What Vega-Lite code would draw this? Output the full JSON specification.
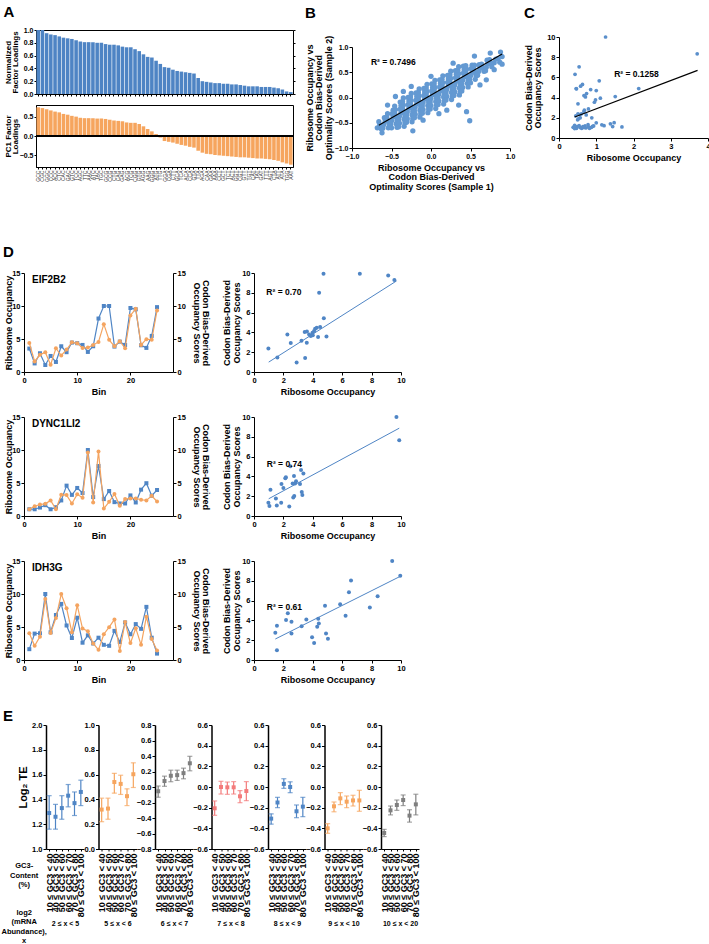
{
"$schema": "https://vega.github.io/schema/vega-lite/v6.json",
"padding": {"left": 0, "top": 4, "right": 0, "bottom": 0},
"background": "white",
"config": {
  "font": "Liberation Sans",
  "view": {"stroke": null},
  "axis": {"grid": false, "domainColor": "#000", "tickColor": "#000", "labelColor": "#000", "titleColor": "#000", "labelFont": "Liberation Sans", "titleFont": "Liberation Sans", "labelFontWeight": "bold", "titleFontWeight": "bold", "labelFontSize": 7.5, "titleFontSize": 9, "tickSize": 3, "labelPadding": 1, "titlePadding": 4, "titleLineHeight": 9.5, "labelOverlap": false, "labelFlush": false, "labelBound": false},
  "title": {"font": "Liberation Sans", "fontSize": 15, "fontWeight": "bold", "anchor": "start", "frame": "bounds", "color": "#000", "offset": 4},
  "text": {"font": "Liberation Sans", "fontWeight": "bold", "color": "#000"}
},
"datasets": {
  "nfl": [{"i":0,"v":1.0},{"i":1,"v":1.0},{"i":2,"v":0.95},{"i":3,"v":0.93},{"i":4,"v":0.92},{"i":5,"v":0.90},{"i":6,"v":0.88},{"i":7,"v":0.87},{"i":8,"v":0.86},{"i":9,"v":0.84},{"i":10,"v":0.82},{"i":11,"v":0.81},{"i":12,"v":0.81},{"i":13,"v":0.81},{"i":14,"v":0.80},{"i":15,"v":0.80},{"i":16,"v":0.78},{"i":17,"v":0.77},{"i":18,"v":0.77},{"i":19,"v":0.76},{"i":20,"v":0.74},{"i":21,"v":0.73},{"i":22,"v":0.73},{"i":23,"v":0.70},{"i":24,"v":0.67},{"i":25,"v":0.62},{"i":26,"v":0.58},{"i":27,"v":0.57},{"i":28,"v":0.52},{"i":29,"v":0.47},{"i":30,"v":0.42},{"i":31,"v":0.41},{"i":32,"v":0.38},{"i":33,"v":0.36},{"i":34,"v":0.35},{"i":35,"v":0.34},{"i":36,"v":0.33},{"i":37,"v":0.32},{"i":38,"v":0.25},{"i":39,"v":0.20},{"i":40,"v":0.19},{"i":41,"v":0.18},{"i":42,"v":0.17},{"i":43,"v":0.17},{"i":44,"v":0.16},{"i":45,"v":0.16},{"i":46,"v":0.15},{"i":47,"v":0.15},{"i":48,"v":0.14},{"i":49,"v":0.13},{"i":50,"v":0.12},{"i":51,"v":0.12},{"i":52,"v":0.12},{"i":53,"v":0.11},{"i":54,"v":0.11},{"i":55,"v":0.11},{"i":56,"v":0.10},{"i":57,"v":0.09},{"i":58,"v":0.07},{"i":59,"v":0.04},{"i":60,"v":0.03}],
  "pc1": [{"c":"GCC","v":0.74},{"c":"CGC","v":0.72},{"c":"GGC","v":0.69},{"c":"CCC","v":0.66},{"c":"ACC","v":0.63},{"c":"CTC","v":0.61},{"c":"CAC","v":0.57},{"c":"GAC","v":0.55},{"c":"GTC","v":0.52},{"c":"TCC","v":0.50},{"c":"AGC","v":0.47},{"c":"TTC","v":0.46},{"c":"AAC","v":0.46},{"c":"ATC","v":0.46},{"c":"TAC","v":0.45},{"c":"TGC","v":0.45},{"c":"GCG","v":0.44},{"c":"CCG","v":0.42},{"c":"CTG","v":0.40},{"c":"CAG","v":0.39},{"c":"GAG","v":0.38},{"c":"ACG","v":0.35},{"c":"TCG","v":0.34},{"c":"CGG","v":0.34},{"c":"GTG","v":0.31},{"c":"AGG","v":0.25},{"c":"AAG","v":0.18},{"c":"GGG","v":0.12},{"c":"ATG","v":0.05},{"c":"TTG","v":-0.04},{"c":"GGA","v":-0.13},{"c":"CGA","v":-0.15},{"c":"CTT","v":-0.17},{"c":"GCA","v":-0.20},{"c":"TCA","v":-0.23},{"c":"ACA","v":-0.25},{"c":"CCA","v":-0.28},{"c":"GTA","v":-0.30},{"c":"TTA","v":-0.38},{"c":"AGA","v":-0.43},{"c":"CAA","v":-0.46},{"c":"GAA","v":-0.47},{"c":"AAA","v":-0.49},{"c":"CCT","v":-0.50},{"c":"GCT","v":-0.51},{"c":"TCT","v":-0.52},{"c":"ACT","v":-0.53},{"c":"GGT","v":-0.54},{"c":"CGT","v":-0.55},{"c":"GTT","v":-0.55},{"c":"TGT","v":-0.56},{"c":"CAT","v":-0.57},{"c":"TAT","v":-0.58},{"c":"GAT","v":-0.58},{"c":"TTT","v":-0.59},{"c":"AGT","v":-0.60},{"c":"CTA","v":-0.62},{"c":"ATT","v":-0.64},{"c":"ATA","v":-0.68},{"c":"TGG","v":-0.71},{"c":"AAT","v":-0.74}],
  "bcloud": [
{"x":-0.65,"y":-0.55},{"x":-0.63,"y":-0.62},{"x":-0.66,"y":-0.48},
{"x":-0.60,"y":-0.54},{"x":-0.58,"y":-0.47},{"x":-0.61,"y":-0.61},{"x":-0.59,"y":-0.40},
{"x":-0.55,"y":-0.46},{"x":-0.53,"y":-0.53},{"x":-0.56,"y":-0.39},{"x":-0.54,"y":-0.60},{"x":-0.55,"y":-0.32},
{"x":-0.50,"y":-0.46},{"x":-0.48,"y":-0.38},{"x":-0.51,"y":-0.53},{"x":-0.49,"y":-0.32},{"x":-0.50,"y":-0.60},{"x":-0.48,"y":-0.25},
{"x":-0.45,"y":-0.38},{"x":-0.43,"y":-0.45},{"x":-0.46,"y":-0.31},{"x":-0.44,"y":-0.52},{"x":-0.45,"y":-0.24},{"x":-0.43,"y":-0.59},{"x":-0.46,"y":-0.17},
{"x":-0.40,"y":-0.37},{"x":-0.38,"y":-0.30},{"x":-0.41,"y":-0.44},{"x":-0.39,"y":-0.23},{"x":-0.40,"y":-0.51},{"x":-0.38,"y":-0.16},{"x":-0.41,"y":-0.58},{"x":-0.39,"y":-0.09},
{"x":-0.35,"y":-0.29},{"x":-0.33,"y":-0.36},{"x":-0.36,"y":-0.22},{"x":-0.34,"y":-0.43},{"x":-0.35,"y":-0.15},{"x":-0.33,"y":-0.50},{"x":-0.36,"y":-0.08},{"x":-0.34,"y":-0.57},{"x":-0.35,"y":-0.01},
{"x":-0.30,"y":-0.28},{"x":-0.28,"y":-0.21},{"x":-0.31,"y":-0.35},{"x":-0.29,"y":-0.14},{"x":-0.30,"y":-0.42},{"x":-0.28,"y":-0.07},{"x":-0.31,"y":-0.49},{"x":-0.29,"y":0.00},
{"x":-0.25,"y":-0.20},{"x":-0.23,"y":-0.27},{"x":-0.26,"y":-0.13},{"x":-0.24,"y":-0.34},{"x":-0.25,"y":-0.06},{"x":-0.23,"y":-0.41},{"x":-0.26,"y":0.01},{"x":-0.24,"y":-0.48},{"x":-0.25,"y":0.08},
{"x":-0.20,"y":-0.19},{"x":-0.18,"y":-0.12},{"x":-0.21,"y":-0.26},{"x":-0.19,"y":-0.05},{"x":-0.20,"y":-0.33},{"x":-0.18,"y":0.02},{"x":-0.21,"y":-0.40},{"x":-0.19,"y":0.09},
{"x":-0.15,"y":-0.11},{"x":-0.13,"y":-0.18},{"x":-0.16,"y":-0.04},{"x":-0.14,"y":-0.25},{"x":-0.15,"y":0.03},{"x":-0.13,"y":-0.32},{"x":-0.16,"y":0.10},{"x":-0.14,"y":-0.39},{"x":-0.15,"y":0.17},
{"x":-0.10,"y":-0.10},{"x":-0.08,"y":-0.03},{"x":-0.11,"y":-0.17},{"x":-0.09,"y":0.04},{"x":-0.10,"y":-0.24},{"x":-0.08,"y":0.11},{"x":-0.11,"y":-0.31},{"x":-0.09,"y":0.18},
{"x":-0.05,"y":-0.02},{"x":-0.03,"y":-0.09},{"x":-0.06,"y":0.05},{"x":-0.04,"y":-0.16},{"x":-0.05,"y":0.12},{"x":-0.03,"y":-0.23},{"x":-0.06,"y":0.19},{"x":-0.04,"y":-0.30},{"x":-0.05,"y":0.26},
{"x":0.00,"y":-0.02},{"x":0.02,"y":0.06},{"x":-0.01,"y":-0.09},{"x":0.01,"y":0.13},{"x":0.00,"y":-0.16},{"x":0.02,"y":0.20},{"x":-0.01,"y":-0.23},{"x":0.01,"y":0.27},
{"x":0.05,"y":0.06},{"x":0.07,"y":-0.01},{"x":0.04,"y":0.13},{"x":0.06,"y":-0.08},{"x":0.05,"y":0.20},{"x":0.07,"y":-0.15},{"x":0.04,"y":0.27},{"x":0.06,"y":-0.22},{"x":0.05,"y":0.34},
{"x":0.10,"y":0.07},{"x":0.12,"y":0.14},{"x":0.09,"y":0.00},{"x":0.11,"y":0.21},{"x":0.10,"y":-0.07},{"x":0.12,"y":0.28},{"x":0.09,"y":-0.14},{"x":0.11,"y":0.35},
{"x":0.15,"y":0.15},{"x":0.17,"y":0.08},{"x":0.14,"y":0.22},{"x":0.16,"y":0.01},{"x":0.15,"y":0.29},{"x":0.17,"y":-0.06},{"x":0.14,"y":0.36},{"x":0.16,"y":-0.13},{"x":0.15,"y":0.43},
{"x":0.20,"y":0.16},{"x":0.22,"y":0.23},{"x":0.19,"y":0.09},{"x":0.21,"y":0.30},{"x":0.20,"y":0.02},{"x":0.22,"y":0.37},{"x":0.19,"y":-0.05},{"x":0.21,"y":0.44},
{"x":0.25,"y":0.24},{"x":0.27,"y":0.17},{"x":0.24,"y":0.31},{"x":0.26,"y":0.10},{"x":0.25,"y":0.38},{"x":0.27,"y":0.03},{"x":0.24,"y":0.45},{"x":0.26,"y":-0.04},{"x":0.25,"y":0.52},
{"x":0.30,"y":0.25},{"x":0.32,"y":0.32},{"x":0.29,"y":0.18},{"x":0.31,"y":0.39},{"x":0.30,"y":0.11},{"x":0.32,"y":0.46},{"x":0.29,"y":0.04},{"x":0.31,"y":0.53},
{"x":0.35,"y":0.33},{"x":0.37,"y":0.26},{"x":0.34,"y":0.40},{"x":0.36,"y":0.19},{"x":0.35,"y":0.47},{"x":0.37,"y":0.12},{"x":0.34,"y":0.54},{"x":0.36,"y":0.05},{"x":0.35,"y":0.61},
{"x":0.40,"y":0.34},{"x":0.42,"y":0.41},{"x":0.39,"y":0.27},{"x":0.41,"y":0.48},{"x":0.40,"y":0.20},{"x":0.42,"y":0.55},{"x":0.39,"y":0.13},{"x":0.41,"y":0.62},
{"x":0.45,"y":0.42},{"x":0.47,"y":0.35},{"x":0.44,"y":0.49},{"x":0.46,"y":0.28},{"x":0.45,"y":0.56},{"x":0.47,"y":0.21},{"x":0.44,"y":0.63},
{"x":0.50,"y":0.43},{"x":0.52,"y":0.50},{"x":0.49,"y":0.36},{"x":0.51,"y":0.57},{"x":0.50,"y":0.29},{"x":0.52,"y":0.64},
{"x":0.55,"y":0.50},{"x":0.57,"y":0.43},{"x":0.54,"y":0.57},{"x":0.56,"y":0.36},{"x":0.55,"y":0.64},
{"x":0.60,"y":0.51},{"x":0.62,"y":0.58},{"x":0.59,"y":0.44},{"x":0.61,"y":0.65},
{"x":0.65,"y":0.59},{"x":0.67,"y":0.52},{"x":0.64,"y":0.66},
{"x":0.70,"y":0.60},{"x":0.72,"y":0.67},{"x":0.69,"y":0.53},{"x":0.71,"y":0.74},
{"x":0.75,"y":0.68},{"x":0.77,"y":0.61},{"x":0.74,"y":0.75},
{"x":0.80,"y":0.69},{"x":0.82,"y":0.76},{"x":0.85,"y":0.77},{"x":0.87,"y":0.70},{"x":0.90,"y":0.81},
{"x":-0.23,"y":-0.66},{"x":0.49,"y":-0.46},{"x":0.45,"y":-0.28},{"x":-0.62,"y":-0.70},{"x":-0.10,"y":-0.45},{"x":0.20,"y":-0.25},{"x":0.62,"y":0.25},{"x":-0.45,"y":0.02},{"x":-0.25,"y":0.22},{"x":0.00,"y":0.42},{"x":0.28,"y":0.68},{"x":0.90,"y":0.66},{"x":0.88,"y":0.90},{"x":0.55,"y":0.82},{"x":-0.55,"y":-0.15},{"x":0.10,"y":-0.32},{"x":0.70,"y":0.35},{"x":0.75,"y":0.88},{"x":-0.35,"y":0.12},{"x":0.35,"y":-0.15},{"x":-0.68,"y":-0.60},{"x":0.80,"y":0.55}
  ],
  "bfit": [{"x":-0.66,"y":-0.55},{"x":0.90,"y":0.86}],
  "cpts": [{"x":1.25,"y":10.0},{"x":3.71,"y":8.34},{"x":0.54,"y":7.05},{"x":0.43,"y":6.3},{"x":1.08,"y":5.66},{"x":0.63,"y":5.3},{"x":0.58,"y":5.13},{"x":0.47,"y":4.87},{"x":0.85,"y":4.8},{"x":2.14,"y":4.9},{"x":1.0,"y":4.7},{"x":0.74,"y":4.4},{"x":0.67,"y":4.2},{"x":0.71,"y":4.07},{"x":1.11,"y":3.94},{"x":0.98,"y":3.77},{"x":0.95,"y":3.54},{"x":1.51,"y":4.1},{"x":0.51,"y":3.38},{"x":0.79,"y":2.88},{"x":0.68,"y":2.75},{"x":0.67,"y":2.6},{"x":0.51,"y":2.4},{"x":0.56,"y":2.3},{"x":0.45,"y":2.2},{"x":0.57,"y":2.0},{"x":0.88,"y":2.0},{"x":0.5,"y":1.8},{"x":0.73,"y":2.28},{"x":1.0,"y":1.5},{"x":1.21,"y":1.22},{"x":1.38,"y":1.4},{"x":1.48,"y":1.52},{"x":1.44,"y":1.13},{"x":1.69,"y":1.1},{"x":0.78,"y":1.32},{"x":0.38,"y":1.06},{"x":0.42,"y":1.26},{"x":0.49,"y":1.13},{"x":0.57,"y":1.03},{"x":0.64,"y":1.13},{"x":0.72,"y":0.99},{"x":0.79,"y":1.1},{"x":0.87,"y":1.06},{"x":0.93,"y":1.2},{"x":0.47,"y":0.96},{"x":0.54,"y":1.23},{"x":0.61,"y":0.96},{"x":0.70,"y":1.2},{"x":0.82,"y":0.96},{"x":0.42,"y":0.93},{"x":0.46,"y":4.9},{"x":0.52,"y":1.9},{"x":0.6,"y":2.4},{"x":0.9,"y":1.15},{"x":1.15,"y":1.3},{"x":0.66,"y":1.05}],
  "cfit": [{"x":0.42,"y":2.08},{"x":3.72,"y":6.7}],
  "lines": [
{"g":"EIF2B2","bin":1,"r":3.55,"c":4.4},{"g":"EIF2B2","bin":2,"r":1.3,"c":1.6},{"g":"EIF2B2","bin":3,"r":2.84,"c":2.6},{"g":"EIF2B2","bin":4,"r":1.06,"c":3.0},{"g":"EIF2B2","bin":5,"r":2.43,"c":1.1},{"g":"EIF2B2","bin":6,"r":1.52,"c":3.6},{"g":"EIF2B2","bin":7,"r":3.9,"c":2.5},{"g":"EIF2B2","bin":8,"r":3.0,"c":3.4},{"g":"EIF2B2","bin":9,"r":4.46,"c":4.5},{"g":"EIF2B2","bin":10,"r":4.36,"c":4.36},{"g":"EIF2B2","bin":11,"r":4.1,"c":3.65},{"g":"EIF2B2","bin":12,"r":3.04,"c":3.7},{"g":"EIF2B2","bin":13,"r":3.9,"c":4.1},{"g":"EIF2B2","bin":14,"r":8.1,"c":4.56},{"g":"EIF2B2","bin":15,"r":10.0,"c":7.25},{"g":"EIF2B2","bin":16,"r":10.0,"c":4.87},{"g":"EIF2B2","bin":17,"r":3.85,"c":3.9},{"g":"EIF2B2","bin":18,"r":4.6,"c":4.66},{"g":"EIF2B2","bin":19,"r":4.1,"c":3.6},{"g":"EIF2B2","bin":20,"r":9.7,"c":8.57},{"g":"EIF2B2","bin":21,"r":9.5,"c":9.58},{"g":"EIF2B2","bin":22,"r":4.05,"c":4.1},{"g":"EIF2B2","bin":23,"r":3.65,"c":4.97},{"g":"EIF2B2","bin":24,"r":5.47,"c":4.87},{"g":"EIF2B2","bin":25,"r":9.83,"c":9.33},
{"g":"DYNC1LI2","bin":1,"r":1.02,"c":1.02},{"g":"DYNC1LI2","bin":2,"r":1.02,"c":1.48},{"g":"DYNC1LI2","bin":3,"r":1.28,"c":1.74},{"g":"DYNC1LI2","bin":4,"r":1.64,"c":1.84},{"g":"DYNC1LI2","bin":5,"r":1.02,"c":2.36},{"g":"DYNC1LI2","bin":6,"r":1.33,"c":1.02},{"g":"DYNC1LI2","bin":7,"r":2.36,"c":3.23},{"g":"DYNC1LI2","bin":8,"r":4.6,"c":3.17},{"g":"DYNC1LI2","bin":9,"r":3.2,"c":1.9},{"g":"DYNC1LI2","bin":10,"r":4.25,"c":3.28},{"g":"DYNC1LI2","bin":11,"r":3.48,"c":2.77},{"g":"DYNC1LI2","bin":12,"r":10.0,"c":9.63},{"g":"DYNC1LI2","bin":13,"r":2.87,"c":2.05},{"g":"DYNC1LI2","bin":14,"r":7.58,"c":9.78},{"g":"DYNC1LI2","bin":15,"r":2.56,"c":1.13},{"g":"DYNC1LI2","bin":16,"r":3.79,"c":2.15},{"g":"DYNC1LI2","bin":17,"r":2.1,"c":3.33},{"g":"DYNC1LI2","bin":18,"r":1.9,"c":1.54},{"g":"DYNC1LI2","bin":19,"r":1.9,"c":2.56},{"g":"DYNC1LI2","bin":20,"r":3.12,"c":2.66},{"g":"DYNC1LI2","bin":21,"r":2.05,"c":2.66},{"g":"DYNC1LI2","bin":22,"r":3.99,"c":2.46},{"g":"DYNC1LI2","bin":23,"r":4.97,"c":2.36},{"g":"DYNC1LI2","bin":24,"r":3.07,"c":3.07},{"g":"DYNC1LI2","bin":25,"r":3.94,"c":2.2},
{"g":"IDH3G","bin":1,"r":1.64,"c":4.05},{"g":"IDH3G","bin":2,"r":4.0,"c":2.15},{"g":"IDH3G","bin":3,"r":4.05,"c":3.54},{"g":"IDH3G","bin":4,"r":10.0,"c":9.23},{"g":"IDH3G","bin":5,"r":4.2,"c":4.1},{"g":"IDH3G","bin":6,"r":6.82,"c":6.36},{"g":"IDH3G","bin":7,"r":8.5,"c":10.0},{"g":"IDH3G","bin":8,"r":5.23,"c":7.85},{"g":"IDH3G","bin":9,"r":3.33,"c":4.2},{"g":"IDH3G","bin":10,"r":6.41,"c":8.3},{"g":"IDH3G","bin":11,"r":2.62,"c":4.77},{"g":"IDH3G","bin":12,"r":3.74,"c":4.36},{"g":"IDH3G","bin":13,"r":2.5,"c":2.51},{"g":"IDH3G","bin":14,"r":3.38,"c":1.54},{"g":"IDH3G","bin":15,"r":2.3,"c":3.9},{"g":"IDH3G","bin":16,"r":2.15,"c":4.97},{"g":"IDH3G","bin":17,"r":4.41,"c":6.15},{"g":"IDH3G","bin":18,"r":2.72,"c":1.38},{"g":"IDH3G","bin":19,"r":5.69,"c":5.74},{"g":"IDH3G","bin":20,"r":3.9,"c":2.56},{"g":"IDH3G","bin":21,"r":5.44,"c":4.82},{"g":"IDH3G","bin":22,"r":4.72,"c":2.3},{"g":"IDH3G","bin":23,"r":8.05,"c":6.56},{"g":"IDH3G","bin":24,"r":3.38,"c":3.18},{"g":"IDH3G","bin":25,"r":0.97,"c":1.44}
  ],
  "scat": [
{"g":"EIF2B2","x":0.98,"y":2.37},{"g":"EIF2B2","x":1.59,"y":1.46},{"g":"EIF2B2","x":2.27,"y":3.8},{"g":"EIF2B2","x":2.5,"y":2.92},{"g":"EIF2B2","x":2.9,"y":0.95},{"g":"EIF2B2","x":3.23,"y":3.15},{"g":"EIF2B2","x":3.45,"y":4.03},{"g":"EIF2B2","x":3.48,"y":1.42},{"g":"EIF2B2","x":3.59,"y":2.95},{"g":"EIF2B2","x":3.75,"y":3.8},{"g":"EIF2B2","x":3.86,"y":3.63},{"g":"EIF2B2","x":3.98,"y":3.97},{"g":"EIF2B2","x":4.09,"y":4.14},{"g":"EIF2B2","x":4.16,"y":4.37},{"g":"EIF2B2","x":4.27,"y":4.47},{"g":"EIF2B2","x":4.36,"y":3.53},{"g":"EIF2B2","x":4.43,"y":8.0},{"g":"EIF2B2","x":4.5,"y":4.54},{"g":"EIF2B2","x":4.73,"y":9.93},{"g":"EIF2B2","x":4.75,"y":5.42},{"g":"EIF2B2","x":4.93,"y":3.59},{"g":"EIF2B2","x":7.2,"y":9.93},{"g":"EIF2B2","x":9.13,"y":9.74},{"g":"EIF2B2","x":9.55,"y":9.3},{"g":"EIF2B2","x":3.6,"y":4.1},{"g":"EIF2B2","x":4.0,"y":3.7},
{"g":"DYNC1LI2","x":0.98,"y":1.33},{"g":"DYNC1LI2","x":1.05,"y":1.02},{"g":"DYNC1LI2","x":1.12,"y":2.66},{"g":"DYNC1LI2","x":1.49,"y":1.77},{"g":"DYNC1LI2","x":1.55,"y":1.06},{"g":"DYNC1LI2","x":1.85,"y":1.33},{"g":"DYNC1LI2","x":1.87,"y":3.24},{"g":"DYNC1LI2","x":2.0,"y":2.83},{"g":"DYNC1LI2","x":2.13,"y":3.82},{"g":"DYNC1LI2","x":2.17,"y":3.92},{"g":"DYNC1LI2","x":2.4,"y":0.96},{"g":"DYNC1LI2","x":2.47,"y":5.02},{"g":"DYNC1LI2","x":2.63,"y":3.28},{"g":"DYNC1LI2","x":2.67,"y":1.88},{"g":"DYNC1LI2","x":2.74,"y":2.01},{"g":"DYNC1LI2","x":2.72,"y":4.03},{"g":"DYNC1LI2","x":2.86,"y":3.52},{"g":"DYNC1LI2","x":2.79,"y":3.28},{"g":"DYNC1LI2","x":3.13,"y":3.24},{"g":"DYNC1LI2","x":3.2,"y":4.64},{"g":"DYNC1LI2","x":3.25,"y":2.42},{"g":"DYNC1LI2","x":3.29,"y":2.12},{"g":"DYNC1LI2","x":3.36,"y":4.3},{"g":"DYNC1LI2","x":9.69,"y":10.0},{"g":"DYNC1LI2","x":9.88,"y":7.65},
{"g":"IDH3G","x":1.45,"y":2.74},{"g":"IDH3G","x":1.56,"y":3.45},{"g":"IDH3G","x":1.56,"y":0.99},{"g":"IDH3G","x":2.18,"y":4.03},{"g":"IDH3G","x":2.3,"y":4.72},{"g":"IDH3G","x":2.55,"y":3.86},{"g":"IDH3G","x":2.55,"y":2.67},{"g":"IDH3G","x":3.24,"y":3.42},{"g":"IDH3G","x":3.56,"y":4.1},{"g":"IDH3G","x":3.95,"y":2.29},{"g":"IDH3G","x":4.09,"y":1.71},{"g":"IDH3G","x":4.3,"y":3.35},{"g":"IDH3G","x":4.37,"y":4.17},{"g":"IDH3G","x":4.41,"y":3.69},{"g":"IDH3G","x":4.83,"y":5.47},{"g":"IDH3G","x":4.9,"y":2.67},{"g":"IDH3G","x":5.03,"y":2.15},{"g":"IDH3G","x":5.86,"y":5.64},{"g":"IDH3G","x":6.23,"y":4.48},{"g":"IDH3G","x":6.46,"y":6.84},{"g":"IDH3G","x":6.6,"y":8.03},{"g":"IDH3G","x":7.88,"y":5.3},{"g":"IDH3G","x":8.41,"y":6.43},{"g":"IDH3G","x":9.95,"y":8.5},{"g":"IDH3G","x":9.4,"y":10.0}
  ],
  "fit": [{"g":"EIF2B2","x":1.0,"y":1.0},{"g":"EIF2B2","x":9.7,"y":9.2},{"g":"DYNC1LI2","x":1.0,"y":1.74},{"g":"DYNC1LI2","x":9.88,"y":8.87},{"g":"IDH3G","x":1.45,"y":2.12},{"g":"IDH3G","x":9.95,"y":8.45}],
  "te": [
{"p":1,"g":"10 ≤ GC3 < 40","m":1.29,"lo":1.16,"hi":1.43},{"p":1,"g":"40 ≤ GC3 < 50","m":1.26,"lo":1.16,"hi":1.36},{"p":1,"g":"50 ≤ GC3 < 60","m":1.33,"lo":1.24,"hi":1.43},{"p":1,"g":"60 ≤ GC3 < 70","m":1.43,"lo":1.34,"hi":1.52},{"p":1,"g":"70 ≤ GC3 < 80","m":1.37,"lo":1.27,"hi":1.46},{"p":1,"g":"80 ≤ GC3 < 100","m":1.46,"lo":1.35,"hi":1.555},
{"p":2,"g":"10 ≤ GC3 < 40","m":0.318,"lo":0.22,"hi":0.41},{"p":2,"g":"40 ≤ GC3 < 50","m":0.326,"lo":0.24,"hi":0.41},{"p":2,"g":"50 ≤ GC3 < 60","m":0.54,"lo":0.45,"hi":0.61},{"p":2,"g":"60 ≤ GC3 < 70","m":0.525,"lo":0.44,"hi":0.595},{"p":2,"g":"70 ≤ GC3 < 80","m":0.426,"lo":0.35,"hi":0.485},{"p":2,"g":"80 ≤ GC3 < 100","m":0.603,"lo":0.496,"hi":0.695},
{"p":3,"g":"10 ≤ GC3 < 40","m":-0.055,"lo":-0.132,"hi":0.013},{"p":3,"g":"40 ≤ GC3 < 50","m":0.077,"lo":0.009,"hi":0.14},{"p":3,"g":"50 ≤ GC3 < 60","m":0.145,"lo":0.068,"hi":0.217},{"p":3,"g":"60 ≤ GC3 < 70","m":0.153,"lo":0.085,"hi":0.217},{"p":3,"g":"70 ≤ GC3 < 80","m":0.179,"lo":0.106,"hi":0.243},{"p":3,"g":"80 ≤ GC3 < 100","m":0.306,"lo":0.209,"hi":0.396},
{"p":4,"g":"10 ≤ GC3 < 40","m":-0.206,"lo":-0.274,"hi":-0.135},{"p":4,"g":"40 ≤ GC3 < 50","m":0.0,"lo":-0.068,"hi":0.055},{"p":4,"g":"50 ≤ GC3 < 60","m":-0.003,"lo":-0.071,"hi":0.048},{"p":4,"g":"60 ≤ GC3 < 70","m":-0.003,"lo":-0.068,"hi":0.052},{"p":4,"g":"70 ≤ GC3 < 80","m":-0.09,"lo":-0.152,"hi":-0.035},{"p":4,"g":"80 ≤ GC3 < 100","m":-0.039,"lo":-0.132,"hi":0.052},
{"p":5,"g":"10 ≤ GC3 < 40","m":-0.306,"lo":-0.36,"hi":-0.26},{"p":5,"g":"40 ≤ GC3 < 50","m":-0.15,"lo":-0.2,"hi":-0.1},{"p":5,"g":"50 ≤ GC3 < 60","m":0.03,"lo":-0.013,"hi":0.08},{"p":5,"g":"60 ≤ GC3 < 70","m":0.0,"lo":-0.055,"hi":0.05},{"p":5,"g":"70 ≤ GC3 < 80","m":-0.235,"lo":-0.297,"hi":-0.174},{"p":5,"g":"80 ≤ GC3 < 100","m":-0.19,"lo":-0.287,"hi":-0.1},
{"p":6,"g":"10 ≤ GC3 < 40","m":-0.4,"lo":-0.448,"hi":-0.355},{"p":6,"g":"40 ≤ GC3 < 50","m":-0.187,"lo":-0.24,"hi":-0.145},{"p":6,"g":"50 ≤ GC3 < 60","m":-0.11,"lo":-0.17,"hi":-0.055},{"p":6,"g":"60 ≤ GC3 < 70","m":-0.142,"lo":-0.2,"hi":-0.087},{"p":6,"g":"70 ≤ GC3 < 80","m":-0.13,"lo":-0.184,"hi":-0.08},{"p":6,"g":"80 ≤ GC3 < 100","m":-0.13,"lo":-0.235,"hi":-0.032},
{"p":7,"g":"10 ≤ GC3 < 40","m":-0.445,"lo":-0.48,"hi":-0.41},{"p":7,"g":"40 ≤ GC3 < 50","m":-0.226,"lo":-0.27,"hi":-0.184},{"p":7,"g":"50 ≤ GC3 < 60","m":-0.174,"lo":-0.226,"hi":-0.126},{"p":7,"g":"60 ≤ GC3 < 70","m":-0.126,"lo":-0.18,"hi":-0.077},{"p":7,"g":"70 ≤ GC3 < 80","m":-0.277,"lo":-0.34,"hi":-0.22},{"p":7,"g":"80 ≤ GC3 < 100","m":-0.168,"lo":-0.27,"hi":-0.07}
  ]
},
"spacing": 54,
"vconcat": [
 {"spacing": 0, "hconcat": [
   {"width": 3, "height": 1, "data": {"values": []}, "mark": {"type": "point", "opacity": 0}},
   {"spacing": 8, "hconcat": [
     {"title": {"text": "A", "offset": 6},
      "spacing": 6,
      "vconcat": [
       {"width": 257, "height": 64, "data": {"name": "nfl"}, "view": {"stroke": "#000"},
        "layer": [
         {"mark": {"type": "bar", "color": "#4e84c4"},
          "encoding": {"x": {"field": "i", "type": "ordinal", "scale": {"paddingInner": 0.15, "paddingOuter": 0.1}, "axis": {"labels": false, "title": null, "tickSize": 2}},
                       "y": {"field": "v", "type": "quantitative", "scale": {"domain": [0, 1]}, "axis": {"values": [0, 0.2, 0.4, 0.6, 0.8, 1], "tickCount": 50, "format": ".1f", "labelFontSize": 7, "tickSize": 2, "titleX": -24, "titleFontSize": 8, "titleLineHeight": 7.5, "title": ["Normalized", "Factor Loadings"]}}}},
         {"mark": {"type": "bar", "opacity": 0},
          "encoding": {"x": {"field": "i", "type": "ordinal"},
                       "y": {"field": "v", "type": "quantitative", "axis": {"orient": "right", "labels": false, "domain": false, "title": null, "tickSize": 2, "tickCount": 50, "values": [0, 0.2, 0.4, 0.6, 0.8, 1]}}}}
        ],
        "resolve": {"axis": {"y": "independent"}}},
       {"width": 257, "height": 62, "data": {"name": "pc1"}, "view": {"stroke": "#000"},
        "layer": [
         {"mark": {"type": "bar", "color": "#f6a55e"},
          "encoding": {"x": {"field": "c", "type": "nominal", "sort": null, "scale": {"paddingInner": 0.15, "paddingOuter": 0.1}, "axis": {"title": null, "labelAngle": -90, "labelFontSize": 5, "labelFontWeight": "normal", "labelColor": "#333", "tickSize": 2, "labelPadding": 1}},
                       "y": {"field": "v", "type": "quantitative", "scale": {"domain": [-0.78, 0.78]}, "axis": {"values": [-0.5, 0, 0.5], "tickCount": 50, "format": ".1f", "labelFontSize": 7, "tickSize": 2, "titleX": -24, "titleFontSize": 8, "titleLineHeight": 7.5, "title": ["PC1 Factor", "Loadings"]}}}},
         {"mark": {"type": "rule", "color": "#000", "strokeWidth": 1}, "encoding": {"y": {"datum": 0}}}
        ]}
      ]},
     {"spacing": 8, "hconcat": [
       {"title": {"text": "B", "offset": 9}, "spacing": 4, "vconcat": [
         {"width": 1, "height": 1, "data": {"values": []}, "mark": {"type": "point", "opacity": 0}},
         {"width": 158, "height": 101,
          "layer": [
           {"data": {"name": "bcloud"}, "mark": {"type": "circle", "size": 28, "color": "#6399d2", "opacity": 1},
            "encoding": {"x": {"field": "x", "type": "quantitative", "scale": {"domain": [-1, 1]}, "axis": {"values": [-1, -0.5, 0, 0.5, 1], "tickCount": 50, "format": ".1f", "labelFontSize": 7, "title": ["Ribosome Occupancy vs", "Codon Bias-Derived", "Optimality Scores (Sample 1)"]}},
                         "y": {"field": "y", "type": "quantitative", "scale": {"domain": [-1, 1]}, "axis": {"values": [-1, -0.5, 0, 0.5, 1], "tickCount": 50, "format": ".1f", "labelFontSize": 7, "titleX": -38, "title": ["Ribosome Occupancy vs", "Codon Bias-Derived", "Optimality Scores (Sample 2)"]}}}},
           {"data": {"name": "bfit"}, "mark": {"type": "line", "color": "#000", "strokeWidth": 1.2},
            "encoding": {"x": {"field": "x", "type": "quantitative"}, "y": {"field": "y", "type": "quantitative"}}},
           {"data": {"values": [{}]}, "mark": {"type": "text", "align": "left", "baseline": "middle", "fontSize": 8.5},
            "encoding": {"x": {"datum": -0.76}, "y": {"datum": 0.7}, "text": {"value": "R² = 0.7496"}}}
          ]}
       ]},
       {"title": {"text": "C", "offset": 9}, "spacing": 2, "vconcat": [
         {"width": 1, "height": 1, "data": {"values": []}, "mark": {"type": "point", "opacity": 0}},
         {"width": 149, "height": 101,
          "layer": [
           {"data": {"name": "cpts"}, "mark": {"type": "circle", "size": 14, "color": "#5a8fcb", "opacity": 1},
            "encoding": {"x": {"field": "x", "type": "quantitative", "scale": {"domain": [0, 4]}, "axis": {"values": [0, 1, 2, 3, 4], "tickCount": 50, "format": "d", "title": "Ribosome Occupancy"}},
                         "y": {"field": "y", "type": "quantitative", "scale": {"domain": [0, 10]}, "axis": {"values": [0, 2, 4, 6, 8, 10], "tickCount": 50, "format": "d", "titleX": -26, "title": ["Codon Bias-Derived", "Occupancy Scores"]}}}},
           {"data": {"name": "cfit"}, "mark": {"type": "line", "color": "#000", "strokeWidth": 1.2},
            "encoding": {"x": {"field": "x", "type": "quantitative"}, "y": {"field": "y", "type": "quantitative"}}},
           {"data": {"values": [{}]}, "mark": {"type": "text", "align": "left", "baseline": "middle", "fontSize": 8.5},
            "encoding": {"x": {"datum": 1.48}, "y": {"datum": 6.36}, "text": {"value": "R² = 0.1258"}}}
          ]}
       ]}
     ]}
   ]}
 ]},
 {"spacing": 24,
  "vconcat": [
   {"title": {"text": "D", "offset": 9, "dx": 3},
    "spacing": 16,
    "vconcat": [
     {"spacing": 0, "hconcat": [
       {"width": 3, "height": 1, "data": {"values": []}, "mark": {"type": "point", "opacity": 0}},
       {"spacing": 12, "hconcat": [
         {"width": 149, "height": 99, "data": {"name": "lines"},
          "layer": [
           {"transform": [{"filter": "datum.g == 'EIF2B2'"}], "mark": {"type": "line", "color": "#4f85c5", "strokeWidth": 1.2, "point": {"shape": "square", "size": 16, "filled": true, "color": "#4f85c5"}},
            "encoding": {"x": {"field": "bin", "type": "quantitative", "scale": {"domain": [0, 26.5]}, "axis": {"values": [0, 10, 20], "tickCount": 50, "format": "d", "title": "Bin"}},
                         "y": {"field": "r", "type": "quantitative", "scale": {"domain": [0, 15]}, "axis": {"values": [0, 5, 10, 15], "tickCount": 50, "format": "d", "titleX": -11, "title": "Ribosome Occupancy"}}}},
           {"transform": [{"filter": "datum.g == 'EIF2B2'"}], "mark": {"type": "line", "color": "#f4a460", "strokeWidth": 1.2, "point": {"shape": "circle", "size": 16, "filled": true, "color": "#f4a460"}},
            "encoding": {"x": {"field": "bin", "type": "quantitative"},
                         "y": {"field": "c", "type": "quantitative", "scale": {"domain": [0, 15]}, "axis": {"orient": "right", "values": [0, 5, 10, 15], "tickCount": 50, "format": "d", "titleX": 27.5, "title": ["Codon Bias-Derived", "Occupancy Scores"]}}}},
           {"data": {"values": [{}]}, "mark": {"type": "text", "align": "left", "baseline": "middle", "fontSize": 10},
            "encoding": {"x": {"datum": 1.5}, "y": {"datum": 13.9, "scale": {"domain": [0, 15]}, "axis": null}, "text": {"value": "EIF2B2"}}}
          ],
          "resolve": {"scale": {"y": "independent"}}},
         {"width": 147, "height": 99,
          "layer": [
           {"data": {"name": "scat"}, "transform": [{"filter": "datum.g == 'EIF2B2'"}], "mark": {"type": "circle", "size": 16, "color": "#4f85c5", "opacity": 1},
            "encoding": {"x": {"field": "x", "type": "quantitative", "scale": {"domain": [0, 10]}, "axis": {"values": [0, 2, 4, 6, 8, 10], "tickCount": 50, "format": "d", "title": "Ribosome Occupancy"}},
                         "y": {"field": "y", "type": "quantitative", "scale": {"domain": [0, 10]}, "axis": {"values": [0, 2, 4, 6, 8, 10], "tickCount": 50, "format": "d", "titleX": -22.5, "title": ["Codon Bias-Derived", "Occupancy Scores"]}}}},
           {"data": {"name": "fit"}, "transform": [{"filter": "datum.g == 'EIF2B2'"}], "mark": {"type": "line", "color": "#4f85c5", "strokeWidth": 1},
            "encoding": {"x": {"field": "x", "type": "quantitative"}, "y": {"field": "y", "type": "quantitative"}}},
           {"data": {"values": [{}]}, "mark": {"type": "text", "align": "left", "baseline": "middle", "fontSize": 8.5},
            "encoding": {"x": {"datum": 0.84}, "y": {"datum": 8.1}, "text": {"value": "R² = 0.70"}}}
          ]}
       ]}
     ]},
     {"spacing": 0, "hconcat": [
       {"width": 3, "height": 1, "data": {"values": []}, "mark": {"type": "point", "opacity": 0}},
       {"spacing": 12, "hconcat": [
         {"width": 149, "height": 99, "data": {"name": "lines"},
          "layer": [
           {"transform": [{"filter": "datum.g == 'DYNC1LI2'"}], "mark": {"type": "line", "color": "#4f85c5", "strokeWidth": 1.2, "point": {"shape": "square", "size": 16, "filled": true, "color": "#4f85c5"}},
            "encoding": {"x": {"field": "bin", "type": "quantitative", "scale": {"domain": [0, 26.5]}, "axis": {"values": [0, 10, 20], "tickCount": 50, "format": "d", "title": "Bin"}},
                         "y": {"field": "r", "type": "quantitative", "scale": {"domain": [0, 15]}, "axis": {"values": [0, 5, 10, 15], "tickCount": 50, "format": "d", "titleX": -11, "title": "Ribosome Occupancy"}}}},
           {"transform": [{"filter": "datum.g == 'DYNC1LI2'"}], "mark": {"type": "line", "color": "#f4a460", "strokeWidth": 1.2, "point": {"shape": "circle", "size": 16, "filled": true, "color": "#f4a460"}},
            "encoding": {"x": {"field": "bin", "type": "quantitative"},
                         "y": {"field": "c", "type": "quantitative", "scale": {"domain": [0, 15]}, "axis": {"orient": "right", "values": [0, 5, 10, 15], "tickCount": 50, "format": "d", "titleX": 27.5, "title": ["Codon Bias-Derived", "Occupancy Scores"]}}}},
           {"data": {"values": [{}]}, "mark": {"type": "text", "align": "left", "baseline": "middle", "fontSize": 10},
            "encoding": {"x": {"datum": 1.5}, "y": {"datum": 13.9, "scale": {"domain": [0, 15]}, "axis": null}, "text": {"value": "DYNC1LI2"}}}
          ],
          "resolve": {"scale": {"y": "independent"}}},
         {"width": 147, "height": 99,
          "layer": [
           {"data": {"name": "scat"}, "transform": [{"filter": "datum.g == 'DYNC1LI2'"}], "mark": {"type": "circle", "size": 16, "color": "#4f85c5", "opacity": 1},
            "encoding": {"x": {"field": "x", "type": "quantitative", "scale": {"domain": [0, 10]}, "axis": {"values": [0, 2, 4, 6, 8, 10], "tickCount": 50, "format": "d", "title": "Ribosome Occupancy"}},
                         "y": {"field": "y", "type": "quantitative", "scale": {"domain": [0, 10]}, "axis": {"values": [0, 2, 4, 6, 8, 10], "tickCount": 50, "format": "d", "titleX": -22.5, "title": ["Codon Bias-Derived", "Occupancy Scores"]}}}},
           {"data": {"name": "fit"}, "transform": [{"filter": "datum.g == 'DYNC1LI2'"}], "mark": {"type": "line", "color": "#4f85c5", "strokeWidth": 1},
            "encoding": {"x": {"field": "x", "type": "quantitative"}, "y": {"field": "y", "type": "quantitative"}}},
           {"data": {"values": [{}]}, "mark": {"type": "text", "align": "left", "baseline": "middle", "fontSize": 8.5},
            "encoding": {"x": {"datum": 0.87}, "y": {"datum": 5.3}, "text": {"value": "R² = 0.74"}}}
          ]}
       ]}
     ]},
     {"spacing": 0, "hconcat": [
       {"width": 3, "height": 1, "data": {"values": []}, "mark": {"type": "point", "opacity": 0}},
       {"spacing": 12, "hconcat": [
         {"width": 149, "height": 99, "data": {"name": "lines"},
          "layer": [
           {"transform": [{"filter": "datum.g == 'IDH3G'"}], "mark": {"type": "line", "color": "#4f85c5", "strokeWidth": 1.2, "point": {"shape": "square", "size": 16, "filled": true, "color": "#4f85c5"}},
            "encoding": {"x": {"field": "bin", "type": "quantitative", "scale": {"domain": [0, 26.5]}, "axis": {"values": [0, 10, 20], "tickCount": 50, "format": "d", "title": "Bin"}},
                         "y": {"field": "r", "type": "quantitative", "scale": {"domain": [0, 15]}, "axis": {"values": [0, 5, 10, 15], "tickCount": 50, "format": "d", "titleX": -11, "title": "Ribosome Occupancy"}}}},
           {"transform": [{"filter": "datum.g == 'IDH3G'"}], "mark": {"type": "line", "color": "#f4a460", "strokeWidth": 1.2, "point": {"shape": "circle", "size": 16, "filled": true, "color": "#f4a460"}},
            "encoding": {"x": {"field": "bin", "type": "quantitative"},
                         "y": {"field": "c", "type": "quantitative", "scale": {"domain": [0, 15]}, "axis": {"orient": "right", "values": [0, 5, 10, 15], "tickCount": 50, "format": "d", "titleX": 27.5, "title": ["Codon Bias-Derived", "Occupancy Scores"]}}}},
           {"data": {"values": [{}]}, "mark": {"type": "text", "align": "left", "baseline": "middle", "fontSize": 10},
            "encoding": {"x": {"datum": 1.5}, "y": {"datum": 13.9, "scale": {"domain": [0, 15]}, "axis": null}, "text": {"value": "IDH3G"}}}
          ],
          "resolve": {"scale": {"y": "independent"}}},
         {"width": 147, "height": 99,
          "layer": [
           {"data": {"name": "scat"}, "transform": [{"filter": "datum.g == 'IDH3G'"}], "mark": {"type": "circle", "size": 16, "color": "#4f85c5", "opacity": 1},
            "encoding": {"x": {"field": "x", "type": "quantitative", "scale": {"domain": [0, 10]}, "axis": {"values": [0, 2, 4, 6, 8, 10], "tickCount": 50, "format": "d", "title": "Ribosome Occupancy"}},
                         "y": {"field": "y", "type": "quantitative", "scale": {"domain": [0, 10]}, "axis": {"values": [0, 2, 4, 6, 8, 10], "tickCount": 50, "format": "d", "titleX": -22.5, "title": ["Codon Bias-Derived", "Occupancy Scores"]}}}},
           {"data": {"name": "fit"}, "transform": [{"filter": "datum.g == 'IDH3G'"}], "mark": {"type": "line", "color": "#4f85c5", "strokeWidth": 1},
            "encoding": {"x": {"field": "x", "type": "quantitative"}, "y": {"field": "y", "type": "quantitative"}}},
           {"data": {"values": [{}]}, "mark": {"type": "text", "align": "left", "baseline": "middle", "fontSize": 8.5},
            "encoding": {"x": {"datum": 0.87}, "y": {"datum": 5.4}, "text": {"value": "R² = 0.61"}}}
          ]}
       ]}
     ]}
    ]},
   {"title": {"text": "E", "offset": -3, "dx": 3},
    "spacing": 0,
    "hconcat": [
     {"width": 1, "height": 1, "data": {"values": []}, "mark": {"type": "point", "opacity": 0}},
     {"spacing": -2.5, "hconcat": [
     {"width": 38, "height": 124, "data": {"name": "te"},
      "layer": [
       {"transform": [{"filter": "datum.p == 1"}], "mark": {"type": "errorbar", "color": "#4f85c5", "thickness": 1.2, "ticks": {"size": 5, "thickness": 1.2}},
        "encoding": {"x": {"field": "g", "type": "nominal", "sort": null, "scale": {"type": "point", "padding": 0.5}, "axis": {"title": "2 ≤ x < 5", "labelAngle": -90, "labelFontSize": 9, "titleFontSize": 7, "tickSize": 2, "labelPadding": 2, "titlePadding": 3}},
                     "y": {"field": "lo", "type": "quantitative", "scale": {"domain": [1, 2]}, "axis": {"values": [1, 1.2, 1.4, 1.6, 1.8, 2], "tickCount": 50, "format": ".1f", "title": "Log₂ TE", "titleX": -17.7, "titleFontSize": 11, "domainWidth": 1.5}},
                     "y2": {"field": "hi"}}},
       {"transform": [{"filter": "datum.p == 1"}], "mark": {"type": "point", "shape": "square", "filled": true, "size": 16, "color": "#4f85c5", "opacity": 1},
        "encoding": {"x": {"field": "g", "type": "nominal", "sort": null}, "y": {"field": "m", "type": "quantitative", "axis": {"title": "Log₂ TE", "titleX": -17.7}}}},
       {"data": {"values": [{}]}, "mark": {"type": "text", "align": "center", "baseline": "top", "fontSize": 7.5, "lineBreak": "\n", "lineHeight": 9.5, "dx": -25},
        "encoding": {"x": {"datum": "10 ≤ GC3 < 40"}, "y": {"datum": 0.894}, "text": {"value": "GC3-\nContent\n(%)"}}},
       {"data": {"values": [{}]}, "mark": {"type": "text", "align": "center", "baseline": "top", "fontSize": 7.5, "lineBreak": "\n", "lineHeight": 9.5, "dx": -25},
        "encoding": {"x": {"datum": "10 ≤ GC3 < 40"}, "y": {"datum": 0.519}, "text": {"value": "log2\n(mRNA\nAbundance),\nx"}}}
      ]},
     {"width": 38, "height": 124, "data": {"name": "te"}, "transform": [{"filter": "datum.p == 2"}],
      "layer": [
       {"mark": {"type": "errorbar", "color": "#f6a55e", "thickness": 1.2, "ticks": {"size": 5, "thickness": 1.2}},
        "encoding": {"x": {"field": "g", "type": "nominal", "sort": null, "scale": {"type": "point", "padding": 0.5}, "axis": {"title": "5 ≤ x < 6", "labelAngle": -90, "labelFontSize": 9, "titleFontSize": 7, "tickSize": 2, "labelPadding": 2, "titlePadding": 3}},
                     "y": {"field": "lo", "type": "quantitative", "scale": {"domain": [0, 1]}, "axis": {"values": [0, 0.2, 0.4, 0.6, 0.8, 1], "tickCount": 50, "format": ".1f", "title": null, "domainWidth": 1.5}},
                     "y2": {"field": "hi"}}},
       {"mark": {"type": "point", "shape": "square", "filled": true, "size": 16, "color": "#f6a55e", "opacity": 1},
        "encoding": {"x": {"field": "g", "type": "nominal", "sort": null}, "y": {"field": "m", "type": "quantitative", "axis": {"title": null}}}}
      ]},
     {"width": 38, "height": 124, "data": {"name": "te"}, "transform": [{"filter": "datum.p == 3"}],
      "layer": [
       {"mark": {"type": "errorbar", "color": "#7f7f7f", "thickness": 1.2, "ticks": {"size": 5, "thickness": 1.2}},
        "encoding": {"x": {"field": "g", "type": "nominal", "sort": null, "scale": {"type": "point", "padding": 0.5}, "axis": {"title": "6 ≤ x < 7", "labelAngle": -90, "labelFontSize": 9, "titleFontSize": 7, "tickSize": 2, "labelPadding": 2, "titlePadding": 3}},
                     "y": {"field": "lo", "type": "quantitative", "scale": {"domain": [-0.8, 0.8]}, "axis": {"values": [-0.8, -0.6, -0.4, -0.2, 0, 0.2, 0.4, 0.6, 0.8], "tickCount": 50, "format": ".1f", "title": null, "domainWidth": 1.5}},
                     "y2": {"field": "hi"}}},
       {"mark": {"type": "point", "shape": "square", "filled": true, "size": 16, "color": "#7f7f7f", "opacity": 1},
        "encoding": {"x": {"field": "g", "type": "nominal", "sort": null}, "y": {"field": "m", "type": "quantitative", "axis": {"title": null}}}}
      ]},
     {"width": 38, "height": 124, "data": {"name": "te"}, "transform": [{"filter": "datum.p == 4"}],
      "layer": [
       {"mark": {"type": "errorbar", "color": "#f37b7b", "thickness": 1.2, "ticks": {"size": 5, "thickness": 1.2}},
        "encoding": {"x": {"field": "g", "type": "nominal", "sort": null, "scale": {"type": "point", "padding": 0.5}, "axis": {"title": "7 ≤ x < 8", "labelAngle": -90, "labelFontSize": 9, "titleFontSize": 7, "tickSize": 2, "labelPadding": 2, "titlePadding": 3}},
                     "y": {"field": "lo", "type": "quantitative", "scale": {"domain": [-0.6, 0.6]}, "axis": {"values": [-0.6, -0.4, -0.2, 0, 0.2, 0.4, 0.6], "tickCount": 50, "format": ".1f", "title": null, "domainWidth": 1.5}},
                     "y2": {"field": "hi"}}},
       {"mark": {"type": "point", "shape": "square", "filled": true, "size": 16, "color": "#f37b7b", "opacity": 1},
        "encoding": {"x": {"field": "g", "type": "nominal", "sort": null}, "y": {"field": "m", "type": "quantitative", "axis": {"title": null}}}}
      ]},
     {"width": 38, "height": 124, "data": {"name": "te"}, "transform": [{"filter": "datum.p == 5"}],
      "layer": [
       {"mark": {"type": "errorbar", "color": "#4f85c5", "thickness": 1.2, "ticks": {"size": 5, "thickness": 1.2}},
        "encoding": {"x": {"field": "g", "type": "nominal", "sort": null, "scale": {"type": "point", "padding": 0.5}, "axis": {"title": "8 ≤ x < 9", "labelAngle": -90, "labelFontSize": 9, "titleFontSize": 7, "tickSize": 2, "labelPadding": 2, "titlePadding": 3}},
                     "y": {"field": "lo", "type": "quantitative", "scale": {"domain": [-0.6, 0.6]}, "axis": {"values": [-0.6, -0.4, -0.2, 0, 0.2, 0.4, 0.6], "tickCount": 50, "format": ".1f", "title": null, "domainWidth": 1.5}},
                     "y2": {"field": "hi"}}},
       {"mark": {"type": "point", "shape": "square", "filled": true, "size": 16, "color": "#4f85c5", "opacity": 1},
        "encoding": {"x": {"field": "g", "type": "nominal", "sort": null}, "y": {"field": "m", "type": "quantitative", "axis": {"title": null}}}}
      ]},
     {"width": 38, "height": 124, "data": {"name": "te"}, "transform": [{"filter": "datum.p == 6"}],
      "layer": [
       {"mark": {"type": "errorbar", "color": "#f6a55e", "thickness": 1.2, "ticks": {"size": 5, "thickness": 1.2}},
        "encoding": {"x": {"field": "g", "type": "nominal", "sort": null, "scale": {"type": "point", "padding": 0.5}, "axis": {"title": "9 ≤ x < 10", "labelAngle": -90, "labelFontSize": 9, "titleFontSize": 7, "tickSize": 2, "labelPadding": 2, "titlePadding": 3}},
                     "y": {"field": "lo", "type": "quantitative", "scale": {"domain": [-0.6, 0.6]}, "axis": {"values": [-0.6, -0.4, -0.2, 0, 0.2, 0.4, 0.6], "tickCount": 50, "format": ".1f", "title": null, "domainWidth": 1.5}},
                     "y2": {"field": "hi"}}},
       {"mark": {"type": "point", "shape": "square", "filled": true, "size": 16, "color": "#f6a55e", "opacity": 1},
        "encoding": {"x": {"field": "g", "type": "nominal", "sort": null}, "y": {"field": "m", "type": "quantitative", "axis": {"title": null}}}}
      ]},
     {"width": 38, "height": 124, "data": {"name": "te"}, "transform": [{"filter": "datum.p == 7"}],
      "layer": [
       {"mark": {"type": "errorbar", "color": "#7f7f7f", "thickness": 1.2, "ticks": {"size": 5, "thickness": 1.2}},
        "encoding": {"x": {"field": "g", "type": "nominal", "sort": null, "scale": {"type": "point", "padding": 0.5}, "axis": {"title": "10 ≤ x < 20", "labelAngle": -90, "labelFontSize": 9, "titleFontSize": 7, "tickSize": 2, "labelPadding": 2, "titlePadding": 3}},
                     "y": {"field": "lo", "type": "quantitative", "scale": {"domain": [-0.6, 0.6]}, "axis": {"values": [-0.6, -0.4, -0.2, 0, 0.2, 0.4, 0.6], "tickCount": 50, "format": ".1f", "title": null, "domainWidth": 1.5}},
                     "y2": {"field": "hi"}}},
       {"mark": {"type": "point", "shape": "square", "filled": true, "size": 16, "color": "#7f7f7f", "opacity": 1},
        "encoding": {"x": {"field": "g", "type": "nominal", "sort": null}, "y": {"field": "m", "type": "quantitative", "axis": {"title": null}}}}
      ]}
     ]}
    ]}
  ]}
]
}
